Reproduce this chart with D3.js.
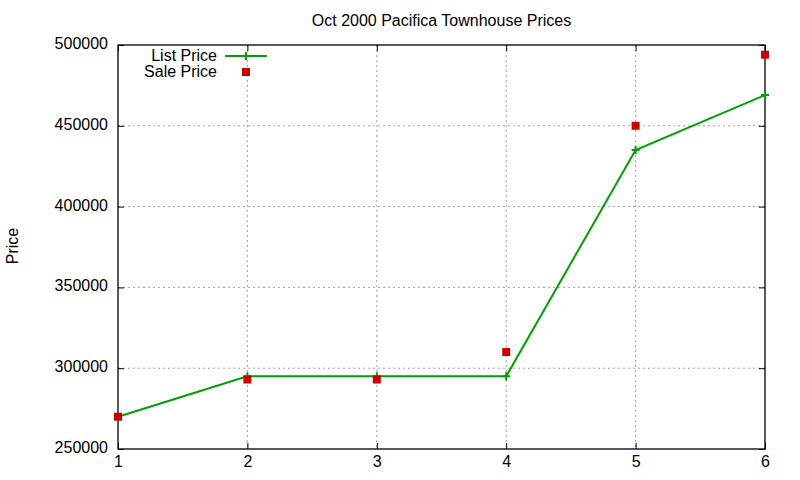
<!DOCTYPE html>
<html><head><meta charset="utf-8">
<script src="https://cdn.jsdelivr.net/npm/d3@7"></script>
<style>
body{margin:0;background:#fff;}
text{font-family:"Liberation Sans",Arial,sans-serif;fill:#000;}
</style></head>
<body>
<svg id="c" width="800" height="480"></svg>
<script>
const houses = [1, 2, 3, 4, 5, 6];
const listPrice = [270000, 295000, 295000, 295000, 435000, 469000];
const salePrice = [270000, 293000, 293000, 310000, 450000, 494000];
const xTicks = [1, 2, 3, 4, 5, 6];
const yTicks = [250000, 300000, 350000, 400000, 450000, 500000];
const seriesNames = ["List Price", "Sale Price"];
const titleText = "Oct 2000 Pacifica Townhouse Prices";
const yLabel = "Price";

const svg = d3.select("#c");
const m = {l:118, r:765, t:45, b:449};
const x = d3.scaleLinear().domain([1,6]).range([m.l, m.r]);
const y = d3.scaleLinear().domain([250000,500000]).range([m.b, m.t]);
const green = "#00a000", red = "#cc0000", fs = 16;

// grid
const g = svg.append("g");
g.selectAll(".gx").data(xTicks.slice(1,-1)).join("line")
  .attr("x1",d=>x(d)).attr("x2",d=>x(d)).attr("y1",m.t).attr("y2",m.b)
  .attr("stroke","#a0a0a0").attr("stroke-width",1).attr("stroke-dasharray","2,3");
g.selectAll(".gy").data(yTicks.slice(1,-1)).join("line")
  .attr("y1",d=>y(d)).attr("y2",d=>y(d)).attr("x1",m.l).attr("x2",m.r)
  .attr("stroke","#a0a0a0").attr("stroke-width",1).attr("stroke-dasharray","2,3");

// axes (gnuplot style, inward ticks, mirrored)
const tl = 6;
const ax = svg.append("g").attr("transform",`translate(0,${m.b})`)
  .call(d3.axisBottom(x).tickValues(xTicks).tickFormat(d3.format("d")).tickSizeInner(-tl).tickSizeOuter(0).tickPadding(7));
const axT = svg.append("g").attr("transform",`translate(0,${m.t})`)
  .call(d3.axisTop(x).tickValues(xTicks).tickFormat("").tickSizeInner(-tl).tickSizeOuter(0));
const ay = svg.append("g").attr("transform",`translate(${m.l},0)`)
  .call(d3.axisLeft(y).tickValues(yTicks).tickFormat(d3.format("d")).tickSizeInner(-tl).tickSizeOuter(0).tickPadding(10));
const ayR = svg.append("g").attr("transform",`translate(${m.r},0)`)
  .call(d3.axisRight(y).tickValues(yTicks).tickFormat("").tickSizeInner(-tl).tickSizeOuter(0));
[ax,axT,ay,ayR].forEach(a=>{
  a.select(".domain").remove();
  a.selectAll("line").attr("stroke","#000");
  a.selectAll("text").attr("font-size",fs).attr("font-family","Liberation Sans, Arial, sans-serif").attr("fill","#000");
});
ay.selectAll("text").attr("dy","0.22em");
svg.append("rect").attr("x",m.l).attr("y",m.t).attr("width",m.r-m.l).attr("height",m.b-m.t)
  .attr("fill","none").attr("stroke","#000").attr("stroke-width",1.3);

// title & label
svg.append("text").attr("x",(m.l+m.r)/2).attr("y",26).attr("text-anchor","middle").attr("font-size",fs).text(titleText);
svg.append("text").attr("transform",`translate(17.5,246) rotate(-90)`).attr("text-anchor","middle").attr("font-size",fs).text(yLabel);

// list price line
const data = houses.map((h,i)=>({h, l:listPrice[i], s:salePrice[i]}));
svg.append("path").datum(data)
  .attr("d", d3.line().x(d=>x(d.h)).y(d=>y(d.l)))
  .attr("fill","none").attr("stroke",green).attr("stroke-width",2);
function plusPath(cx,cy,s){return `M${cx-s},${cy}H${cx+s}M${cx},${cy-s}V${cy+s}`;}
svg.selectAll(".lp").data(data).join("path")
  .attr("d",d=>plusPath(x(d.h),y(d.l),4)).attr("stroke",green).attr("stroke-width",2).attr("fill","none");
// sale price squares
const sq = 8;
svg.selectAll(".sp").data(data).join("rect")
  .attr("x",d=>x(d.h)-sq/2).attr("y",d=>y(d.s)-sq/2).attr("width",sq).attr("height",sq).attr("fill",red);

// legend
const lg = svg.append("g");
lg.append("text").attr("x",217).attr("y",61).attr("text-anchor","end").attr("font-size",fs).text(seriesNames[0]);
lg.append("text").attr("x",217).attr("y",76.5).attr("text-anchor","end").attr("font-size",fs).text(seriesNames[1]);
lg.append("line").attr("x1",225).attr("x2",267).attr("y1",56).attr("y2",56).attr("stroke",green).attr("stroke-width",2);
lg.append("path").attr("d",plusPath(246,56,4)).attr("stroke",green).attr("stroke-width",2);
lg.append("rect").attr("x",246-sq/2).attr("y",72-sq/2).attr("width",sq).attr("height",sq).attr("fill",red);
</script>
</body></html>
